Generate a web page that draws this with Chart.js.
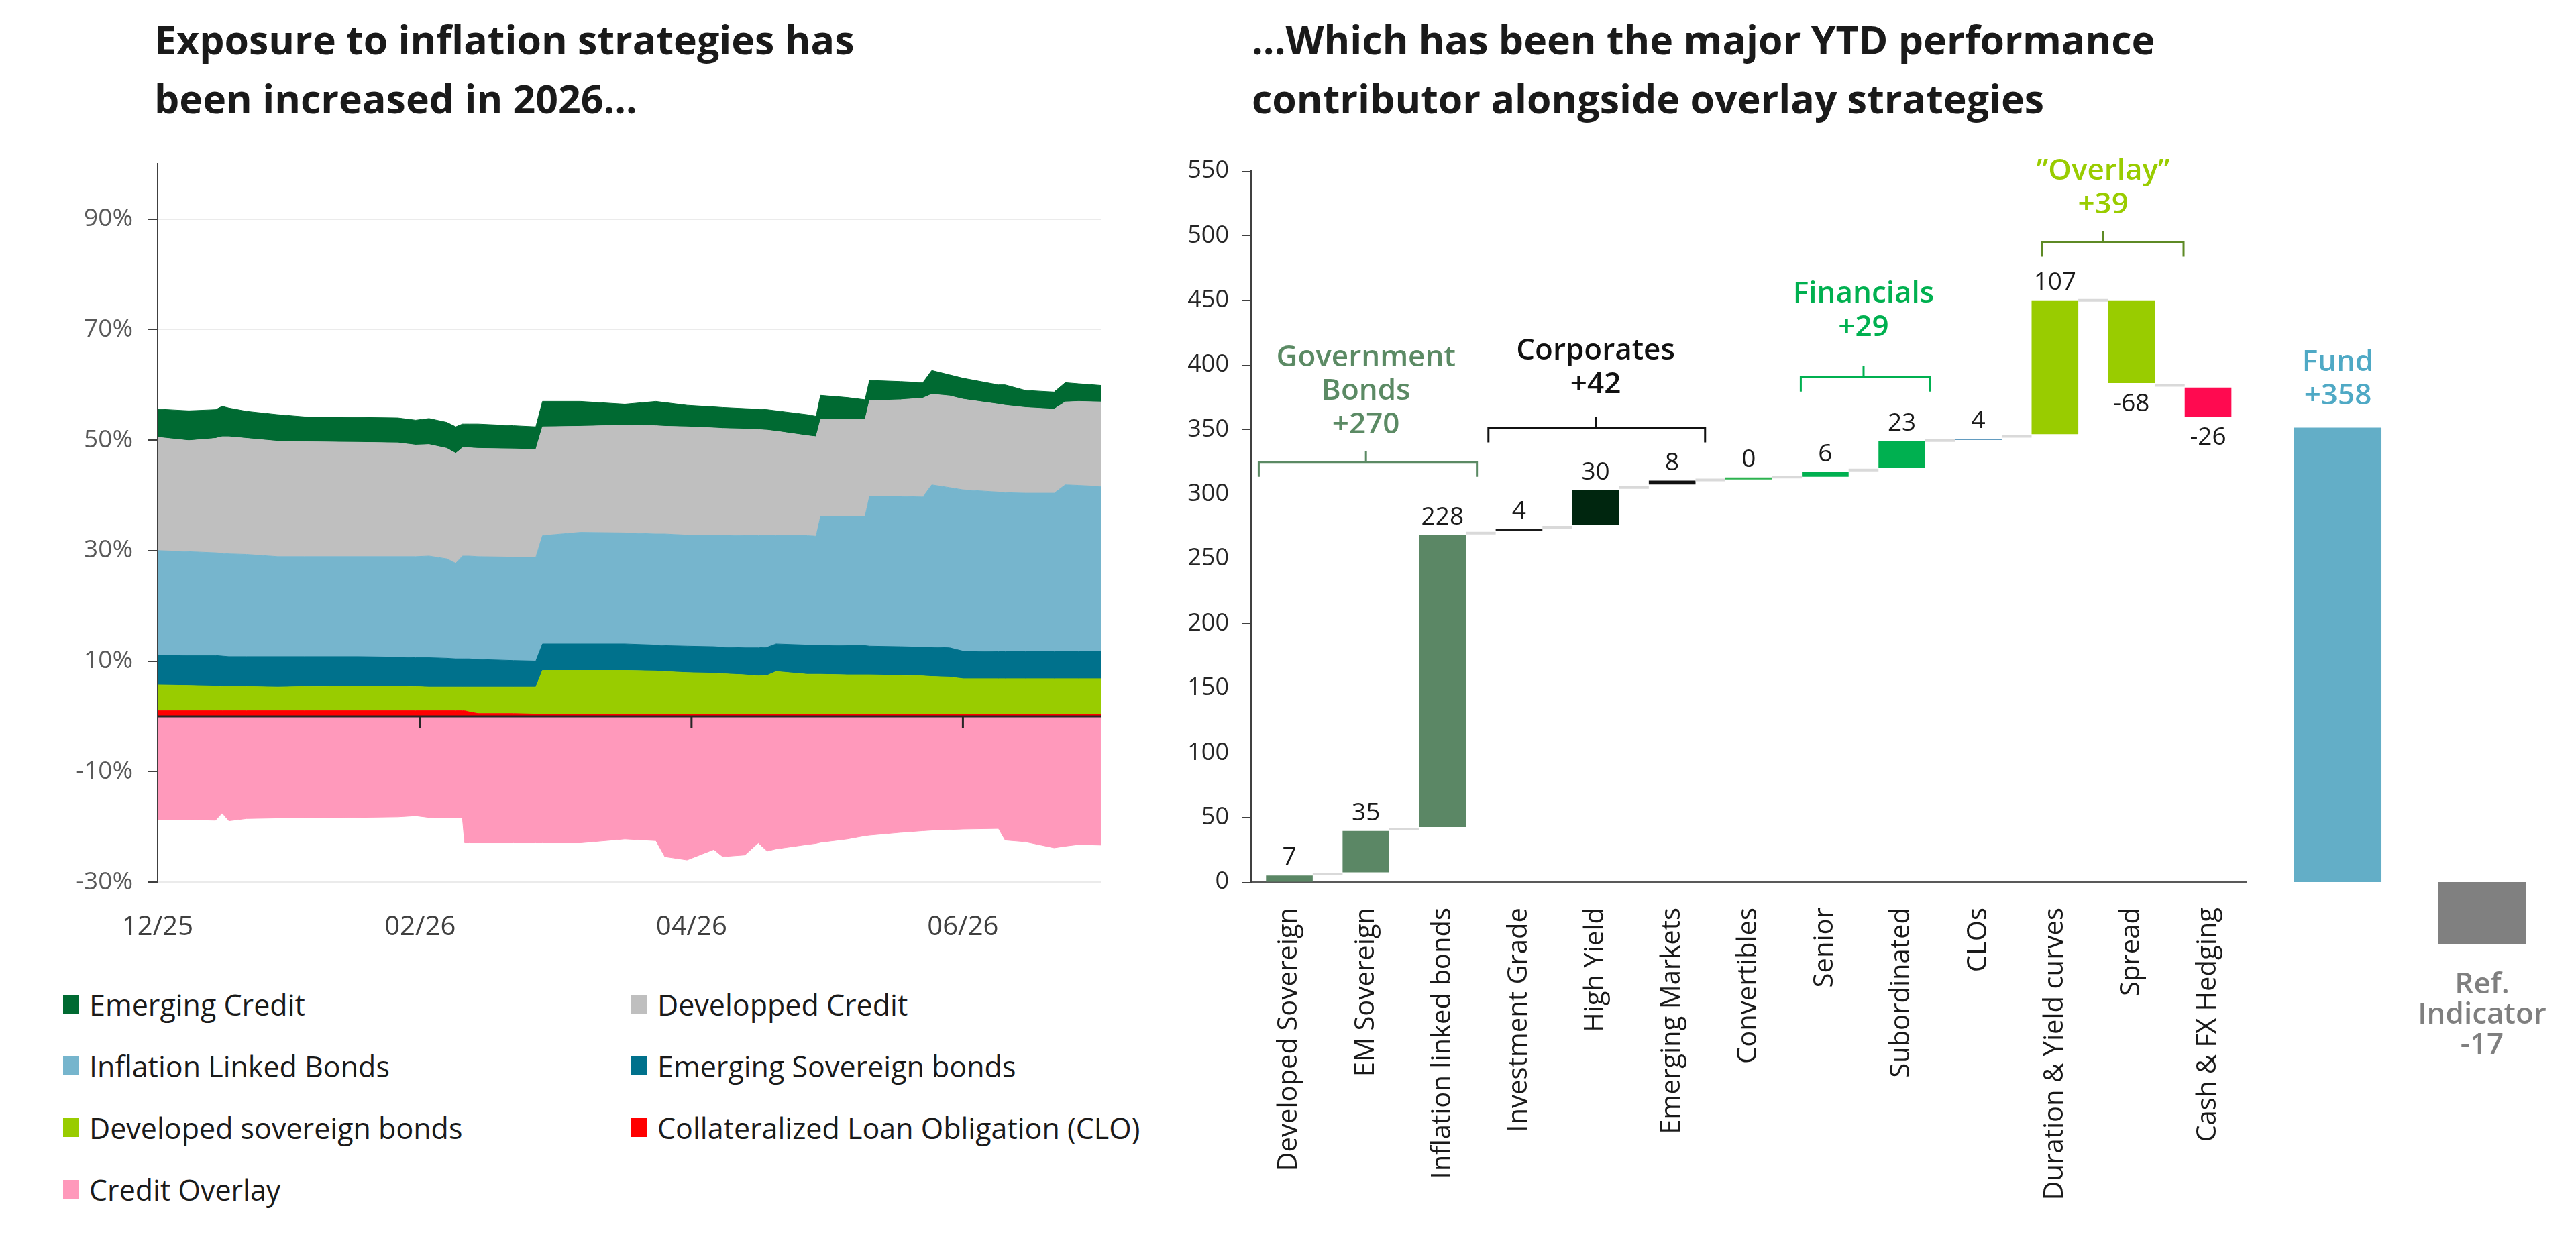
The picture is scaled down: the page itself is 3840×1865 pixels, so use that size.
<!DOCTYPE html>
<html>
<head>
<meta charset="utf-8">
<script src="https://cdn.jsdelivr.net/npm/chart.js@4.4.0/dist/chart.umd.min.js"></script>
<style>
  body { margin: 0; width: 3840px; height: 1865px; background: #fff; position: relative; overflow: hidden; font-family: 'Open Sans', sans-serif; }
  .title { position: absolute; font-weight: 700; font-size: 59px; line-height: 88px; color: #1a1a1a; white-space: nowrap; }
  canvas { position: absolute; }
  #legend { position: absolute; left: 94px; top: 1451px; display: grid; grid-template-columns: 847px 847px; grid-auto-rows: 92px; font-size: 43px; color: #1a1a1a; }
  #legend div { display: flex; align-items: center; white-space: nowrap; }
  #legend span { display: inline-block; width: 24px; height: 28px; margin-right: 15px; }
</style>
</head>
<body>
<div class="title" style="left:230px;top:14px">Exposure to inflation strategies has<br>been increased in 2026...</div>
<div class="title" style="left:1866px;top:14px">...Which has been the major YTD performance<br>contributor alongside overlay strategies</div>
<canvas id="exposureChart" width="1760" height="1240" style="left:0;top:200px"></canvas>
<div id="legend"></div>
<canvas id="waterfallChart" width="1670" height="1665" style="left:1700px;top:200px"></canvas>
<canvas id="totalChart" width="470" height="1665" style="left:3370px;top:200px"></canvas>
<script>
Chart.defaults.font.family = "'Open Sans', sans-serif";

// ---- left chart: exposures (days since 31/12/25) ----
const days = [0, 7, 13, 14.5, 16, 20, 27, 33, 45, 54, 58, 61, 65, 67, 68.5, 69, 70, 72, 80, 85,
  86.5, 95, 105, 112, 114, 119, 125, 127, 132, 135, 137, 139, 146, 148, 149, 155, 159, 160, 167, 172,
  174, 178, 181, 189, 190.5, 195, 201.5, 204, 207, 212];
const tickDays = [0, 59, 120, 181];
const tickLabels = ['12/25', '02/26', '04/26', '06/26'];
const yTicks = [-30, -10, 10, 30, 50, 70, 90];

const clo = [1.0, 1.0, 1.0, 1.0, 1.0, 1.0, 1.0, 1.0, 1.0, 1.0, 1.0, 1.0, 1.0, 1.0, 1.0, 1.0, 0.8, 0.5, 0.5, 0.4,
  0.4, 0.4, 0.4, 0.4, 0.4, 0.4, 0.4, 0.4, 0.4, 0.4, 0.4, 0.4, 0.4, 0.4, 0.4, 0.4, 0.4, 0.4, 0.4, 0.4,
  0.4, 0.4, 0.4, 0.4, 0.4, 0.4, 0.4, 0.4, 0.4, 0.4];
const devSov = [4.7, 4.6, 4.5, 4.4, 4.4, 4.4, 4.3, 4.4, 4.5, 4.5, 4.4, 4.3, 4.3, 4.3, 4.3, 4.3, 4.5, 4.8, 4.8, 4.9,
  7.9, 7.9, 7.9, 7.8, 7.7, 7.5, 7.4, 7.3, 7.1, 6.9, 7.0, 7.7, 7.2, 7.2, 7.2, 7.1, 7.1, 7.1, 7.0, 6.9,
  6.8, 6.7, 6.4, 6.4, 6.4, 6.4, 6.4, 6.4, 6.4, 6.4];
const emSov = [5.4, 5.4, 5.5, 5.5, 5.4, 5.4, 5.5, 5.4, 5.3, 5.2, 5.2, 5.3, 5.2, 5.1, 5.1, 5.1, 5.1, 5.0, 4.8, 4.7,
  4.8, 4.8, 4.8, 4.7, 4.7, 4.8, 4.8, 4.8, 4.9, 5.1, 5.1, 5.0, 5.3, 5.3, 5.3, 5.3, 5.3, 5.2, 5.2, 5.2,
  5.3, 5.3, 5.0, 4.9, 4.9, 4.9, 4.9, 4.9, 4.9, 4.9];
const ilb = [18.9, 18.8, 18.6, 18.6, 18.6, 18.5, 18.1, 18.1, 18.1, 18.2, 18.3, 18.4, 18.0, 17.3, 18.6, 18.6, 18.6, 18.6, 18.7, 18.8,
  19.6, 20.2, 20.1, 20.1, 20.2, 20.1, 20.2, 20.3, 20.3, 20.3, 20.2, 19.6, 19.8, 19.7, 23.3, 23.4, 23.4, 27.1, 27.2, 27.2,
  29.4, 29.0, 29.2, 28.9, 28.8, 28.7, 28.7, 30.2, 30.1, 29.9];
const devCredit = [20.5, 20.1, 20.7, 21.1, 21.2, 21.0, 20.9, 20.8, 20.7, 20.6, 20.2, 20.2, 20.0, 19.9, 19.6, 19.6, 19.6, 19.6, 19.6, 19.5,
  19.7, 19.2, 19.5, 19.6, 19.5, 19.6, 19.4, 19.3, 19.3, 19.2, 19.1, 18.9, 18.1, 18.0, 17.5, 17.5, 17.5, 17.3, 17.5, 17.9,
  16.4, 16.6, 16.4, 15.9, 15.8, 15.5, 15.2, 15.0, 15.2, 15.3];
const emCredit = [5.1, 5.4, 5.2, 5.5, 5.2, 4.9, 4.8, 4.5, 4.5, 4.5, 4.5, 4.7, 4.7, 4.8, 4.3, 4.3, 4.3, 4.4, 4.2, 4.1,
  4.6, 4.5, 3.8, 4.4, 4.3, 3.9, 3.8, 3.8, 3.7, 3.7, 3.7, 3.7, 3.8, 3.7, 4.4, 4.0, 3.6, 3.7, 3.3, 2.8,
  4.3, 3.8, 3.8, 3.5, 3.7, 3.1, 3.1, 3.5, 3.2, 3.0];
const overlay = [-18.7, -18.7, -18.8, -17.5, -18.9, -18.5, -18.4, -18.4, -18.3, -18.2, -18.0, -18.3, -18.4, -18.4, -18.4, -22.9, -22.9, -22.9, -22.9, -22.9,
  -22.9, -22.9, -22.2, -22.5, -25.4, -26.0, -24.1, -25.4, -25.1, -22.9, -24.4, -24.0, -23.2, -23.0, -22.8, -22.2, -21.6, -21.5, -21.0, -20.7,
  -20.6, -20.5, -20.4, -20.3, -22.4, -22.7, -23.8, -23.5, -23.2, -23.3];

const seriesNames = ['Collateralized Loan Obligation (CLO)', 'Developed sovereign bonds', 'Emerging Sovereign bonds',
  'Inflation Linked Bonds', 'Developped Credit', 'Emerging Credit', 'Credit Overlay'];
const seriesValues = [clo, devSov, emSov, ilb, devCredit, emCredit, overlay];
const seriesColors = ['#ff0000', '#99cc00', '#00718c', '#76b5cd', '#bfbfbf', '#006a32', '#ff99bb'];
const legendOrder = [5, 4, 3, 2, 1, 0, 6];

// ---- right chart: YTD contributions (bps) ----
const categories = ['Developed Sovereign', 'EM Sovereign', 'Inflation linked bonds', 'Investment Grade', 'High Yield',
  'Emerging Markets', 'Convertibles', 'Senior', 'Subordinated', 'CLOs', 'Duration & Yield curves', 'Spread', 'Cash & FX Hedging'];
const contributions = [7, 35, 228, 4, 30, 8, 0, 6, 23, 4, 107, -68, -26];
const barLow = [0, 7.5, 42.5, 271.5, 276, 307.5, 311.5, 313.5, 320.5, 342, 346.5, 386, 360];
const barHigh = [5, 39.5, 268.5, 273, 303, 310.5, 313, 317, 341, 343, 450, 450, 382.5];
const barColors = ['#5b8765', '#5b8765', '#5b8765', '#1a1a1a', '#00260f', '#111111', '#2eb350', '#00b050', '#00b050',
  '#2f7bab', '#99cc00', '#99cc00', '#ff0a50'];

const totalNames = ['Fund', 'Ref. Indicator'];
const totalValues = [358, -17];
const totalLow = [0, -48];
const totalHigh = [351.5, 0];
const totalColors = ['#63aec7', '#808080'];
const totalTextColors = ['#4fa9c5', '#7f7f7f'];

const groupNotes = [
  { lines: ['Government', 'Bonds', '+270'], color: '#5b8a64', line: '#5b8a64', from: -0.4, to: 2.45, center: 1, bracket: 325, lastLine: 353.6 },
  { lines: ['Corporates', '+42'], color: '#111111', line: '#111111', from: 2.6, to: 5.43, center: 4, bracket: 351.5, lastLine: 384.8 },
  { lines: ['Financials', '+29'], color: '#00b050', line: '#00b050', from: 6.68, to: 8.37, center: 7.5, bracket: 390.8, lastLine: 428.8 },
  { lines: ['\u201DOverlay\u201D', '+39'], color: '#99cc00', line: '#5e8a25', from: 9.83, to: 11.68, center: 10.63, bracket: 495.3, lastLine: 524 }
];

// legend
const legendBox = document.getElementById('legend');
legendOrder.forEach(k => {
  const item = document.createElement('div');
  const sw = document.createElement('span');
  sw.style.background = seriesColors[k];
  item.appendChild(sw);
  item.appendChild(document.createTextNode(seriesNames[k]));
  legendBox.appendChild(item);
});

const zeroLine = {
  id: 'zeroLine',
  afterDatasetsDraw(chart) {
    const { ctx, chartArea, scales: { x, y } } = chart;
    const y0 = y.getPixelForValue(0);
    ctx.save();
    ctx.strokeStyle = '#262626';
    ctx.lineWidth = 3;
    ctx.beginPath();
    ctx.moveTo(chartArea.left, y0);
    ctx.lineTo(chartArea.right, y0);
    tickDays.forEach(d => {
      if (d > 0) {
        const px = x.getPixelForValue(d);
        ctx.moveTo(px, y0);
        ctx.lineTo(px, y0 + 18);
      }
    });
    ctx.stroke();
    ctx.restore();
  }
};

const exposureChart = new Chart(document.getElementById('exposureChart'), {
  type: 'line',
  data: {
    datasets: seriesValues.map((vals, k) => ({
      label: seriesNames[k],
      data: vals.map((v, i) => ({ x: days[i], y: v })),
      backgroundColor: seriesColors[k],
      borderColor: seriesColors[k],
      borderWidth: 1,
      pointRadius: 0,
      tension: 0,
      fill: (k === 0 || k === 6) ? 'origin' : '-1'
    }))
  },
  options: {
    responsive: false,
    animation: false,
    devicePixelRatio: 1,
    layout: { padding: { top: 35, right: 119, bottom: 0, left: 0 } },
    plugins: { legend: { display: false }, tooltip: { enabled: false } },
    scales: {
      x: {
        type: 'linear', min: 0, max: 212,
        afterBuildTicks: s => { s.ticks = tickDays.map(v => ({ value: v })); },
        afterFit: s => { s.height = 125; },
        grid: { display: false },
        border: { display: false },
        ticks: { padding: 36, color: '#404040', font: { size: 40 }, maxRotation: 0, autoSkip: false,
          callback: v => tickLabels[tickDays.indexOf(v)] }
      },
      y: {
        stacked: true, min: -30, max: 100,
        afterBuildTicks: s => { s.ticks = yTicks.map(v => ({ value: v })); },
        afterFit: s => { s.width = 235; },
        grid: { color: '#ebebeb', lineWidth: 2, tickLength: 15, tickColor: '#404040' },
        border: { color: '#404040', width: 2 },
        ticks: { padding: 22, color: '#595959', font: { size: 37 }, callback: v => v + '%' }
      }
    }
  },
  plugins: [zeroLine]
});

function drawLines(ctx, lines, x, yLast, step) {
  lines.forEach((t, i) => ctx.fillText(t, x, yLast - (lines.length - 1 - i) * step));
}

const waterfallDecor = {
  id: 'waterfallDecor',
  afterDatasetsDraw(chart) {
    const { ctx, scales: { x, y } } = chart;
    const bars = chart.getDatasetMeta(0).data;
    ctx.save();
    // connectors
    ctx.strokeStyle = '#d9d9d9';
    ctx.lineWidth = 4;
    for (let i = 0; i < bars.length - 1; i++) {
      const end = contributions[i] >= 0 ? barHigh[i] : barLow[i];
      const start = contributions[i + 1] >= 0 ? barLow[i + 1] : barHigh[i + 1];
      const py = y.getPixelForValue((end + start) / 2);
      ctx.beginPath();
      ctx.moveTo(bars[i].x + bars[i].width / 2, py);
      ctx.lineTo(bars[i + 1].x - bars[i + 1].width / 2, py);
      ctx.stroke();
    }
    // value labels
    ctx.fillStyle = '#1a1a1a';
    ctx.font = "37px 'Open Sans'";
    ctx.textAlign = 'center';
    ctx.textBaseline = 'alphabetic';
    bars.forEach((b, i) => {
      if (contributions[i] >= 0) ctx.fillText(String(contributions[i]), b.x, y.getPixelForValue(barHigh[i]) - 16);
      else ctx.fillText(String(contributions[i]), b.x, y.getPixelForValue(barLow[i]) + 42);
    });
    // group brackets
    const step = x.getPixelForValue(1) - x.getPixelForValue(0);
    const px = v => x.getPixelForValue(0) + v * step;
    groupNotes.forEach(g => {
      const by = y.getPixelForValue(g.bracket);
      ctx.strokeStyle = g.line;
      ctx.lineWidth = 3;
      ctx.beginPath();
      ctx.moveTo(px(g.from), by + 22);
      ctx.lineTo(px(g.from), by);
      ctx.lineTo(px(g.to), by);
      ctx.lineTo(px(g.to), by + 22);
      ctx.moveTo(px(g.center), by);
      ctx.lineTo(px(g.center), by - 16);
      ctx.stroke();
      ctx.fillStyle = g.color;
      ctx.font = "600 44px 'Open Sans'";
      ctx.textBaseline = 'middle';
      drawLines(ctx, g.lines, px(g.center), y.getPixelForValue(g.lastLine), 50);
    });
    ctx.restore();
  }
};

const waterfallChart = new Chart(document.getElementById('waterfallChart'), {
  type: 'bar',
  data: {
    labels: categories,
    datasets: [{
      data: barLow.map((lo, i) => [lo, barHigh[i]]),
      backgroundColor: barColors,
      borderWidth: 0,
      barPercentage: 0.61,
      categoryPercentage: 1
    }]
  },
  options: {
    responsive: false,
    animation: false,
    devicePixelRatio: 1,
    layout: { padding: { top: 55, right: 12, bottom: 0, left: 0 } },
    plugins: { legend: { display: false }, tooltip: { enabled: false } },
    scales: {
      x: {
        afterFit: s => { s.height = 550; },
        grid: { display: false },
        border: { color: '#595959', width: 3 },
        ticks: { minRotation: 90, maxRotation: 90, padding: 30, autoSkip: false, color: '#1a1a1a', font: { size: 40 } }
      },
      y: {
        min: 0, max: 550,
        afterFit: s => { s.width = 165; },
        grid: { drawOnChartArea: false, tickLength: 13, tickColor: '#404040' },
        border: { color: '#404040', width: 2 },
        ticks: { stepSize: 50, padding: 20, color: '#262626', font: { size: 36 } }
      }
    }
  },
  plugins: [waterfallDecor]
});

const totalDecor = {
  id: 'totalDecor',
  afterDatasetsDraw(chart) {
    const { ctx, scales: { y } } = chart;
    const bars = chart.getDatasetMeta(0).data;
    ctx.save();
    ctx.font = "600 44px 'Open Sans'";
    ctx.textAlign = 'center';
    ctx.textBaseline = 'middle';
    bars.forEach((b, i) => {
      const v = totalValues[i];
      const lines = totalNames[i].split(' ').concat([(v > 0 ? '+' : '') + v]);
      ctx.fillStyle = totalTextColors[i];
      if (v >= 0) {
        drawLines(ctx, lines, b.x, y.getPixelForValue(totalHigh[i]) - 47, 50);
      } else {
        const top = y.getPixelForValue(totalLow[i]) + 61;
        lines.forEach((t, j) => ctx.fillText(t, b.x, top + j * 45));
      }
    });
    ctx.restore();
  }
};

const totalChart = new Chart(document.getElementById('totalChart'), {
  type: 'bar',
  data: {
    labels: totalNames,
    datasets: [{
      data: totalLow.map((lo, i) => [lo, totalHigh[i]]),
      backgroundColor: totalColors,
      borderWidth: 0,
      barPercentage: 0.605,
      categoryPercentage: 1
    }]
  },
  options: {
    responsive: false,
    animation: false,
    devicePixelRatio: 1,
    layout: { padding: { top: 55, right: 32.5, bottom: 453.6, left: 7.5 } },
    plugins: { legend: { display: false }, tooltip: { enabled: false } },
    scales: {
      x: { display: false },
      y: { display: false, min: -50, max: 550 }
    }
  },
  plugins: [totalDecor]
});
</script>
</body>
</html>
